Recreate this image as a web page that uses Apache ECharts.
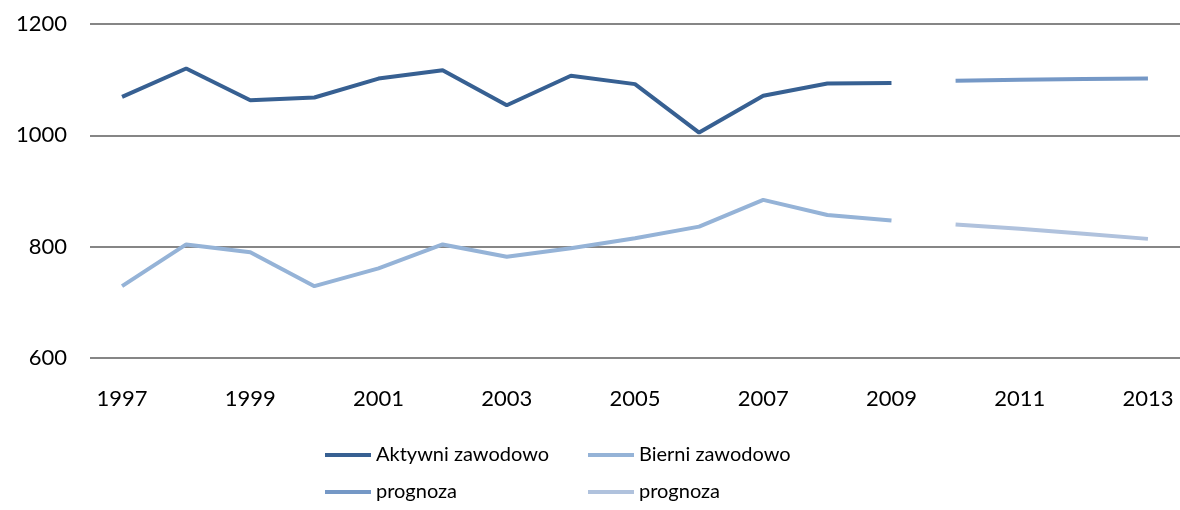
<!DOCTYPE html>
<html>
    <head>
        <meta charset="utf-8">
        <title>Aktywni i bierni zawodowo</title>
        <script src="https://cdn.jsdelivr.net/npm/echarts@6/dist/echarts.min.js"></script>
        <style>
            html, body { margin: 0; padding: 0; background: #fff; }
            #chart1 { width: 1180px; height: 510px; }
        </style>
    </head>
    <body>
        <div id="chart1"></div>
        <script type="text/javascript">
            // dane
            var years = ['1997', '1998', '1999', '2000', '2001', '2002', '2003', '2004', '2005',
                         '2006', '2007', '2008', '2009', '2010', '2011', '2012', '2013'];
            var aktywni = [1069, 1120, 1063, 1068, 1102, 1117, 1054, 1107, 1092, 1005, 1071, 1093, 1094, null, null, null, null];
            var bierni = [729, 804, 790, 729, 761, 804, 782, 797, 815, 836, 884, 857, 847, null, null, null, null];
            var prognozaAktywni = [null, null, null, null, null, null, null, null, null, null, null, null, null, 1098, 1100, 1101, 1102];
            var prognozaBierni = [null, null, null, null, null, null, null, null, null, null, null, null, null, 840, 832, 823, 814];
            var yTicks = { min: 600, max: 1200, interval: 200 };

            var font = 'Lato';
            var myChart = echarts.init(document.getElementById('chart1'));

            function legendAt(name, left, top) {
                return {
                    data: [name],
                    left: left,
                    top: top,
                    padding: 0,
                    icon: 'rect',
                    itemWidth: 46,
                    itemHeight: 4,
                    selectedMode: false,
                    formatter: function (n) { return n.replace(/ \(.*\)$/, ''); },
                    textStyle: { fontFamily: font, fontSize: 20, color: '#000', lineHeight: 22 }
                };
            }

            function lineSeries(name, data, color) {
                return {
                    name: name,
                    type: 'line',
                    data: data,
                    symbol: 'none',
                    connectNulls: false,
                    animation: false,
                    lineStyle: { color: color, width: 4 },
                    itemStyle: { color: color }
                };
            }

            var option = {
                backgroundColor: '#fff',
                animation: false,
                grid: { left: 90, top: 24, width: 1095, height: 334, containLabel: false },
                legend: [
                    legendAt('Aktywni zawodowo', 325, 444),
                    legendAt('Bierni zawodowo', 588, 444),
                    legendAt('prognoza', 325, 481),
                    legendAt('prognoza (bierni)', 588, 481)
                ],
                xAxis: {
                    type: 'category',
                    boundaryGap: true,
                    data: years,
                    axisLine: { show: false },
                    axisTick: { show: false },
                    axisLabel: { interval: 1, margin: 30, fontFamily: font, fontSize: 22, color: '#000' }
                },
                yAxis: {
                    type: 'value',
                    min: yTicks.min,
                    max: yTicks.max,
                    interval: yTicks.interval,
                    axisLine: { show: false },
                    axisTick: { show: false },
                    axisLabel: {
                        margin: 23, fontFamily: font, fontSize: 22, color: '#000',
                        formatter: function (v) { return String(v); }
                    },
                    splitLine: { show: true, lineStyle: { color: '#868686', width: 2 } }
                },
                series: [
                    lineSeries('Aktywni zawodowo', aktywni, '#376092'),
                    lineSeries('Bierni zawodowo', bierni, '#95b3d7'),
                    lineSeries('prognoza', prognozaAktywni, '#7598c6'),
                    lineSeries('prognoza (bierni)', prognozaBierni, '#b0c2dd')
                ]
            };
            myChart.setOption(option);
        </script>
    </body>
</html>
